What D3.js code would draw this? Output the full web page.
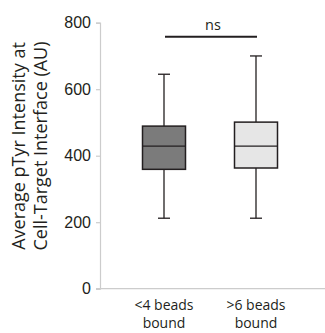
<!DOCTYPE html>
<html>
<head>
<meta charset="utf-8">
<script src="https://cdn.jsdelivr.net/npm/d3@7"></script>
<style>
  html, body { margin: 0; padding: 0; background: #fff; }
  svg { display: block; font-family: "Open Sans", "Noto Sans", sans-serif; }
</style>
</head>
<body>
<svg id="chart" width="325" height="333"></svg>
<script>
// Groups and five-number summaries (whisker low, Q1, median, Q3, whisker high)
const groups = ["<4 beads bound", ">6 beads bound"];
const groupLines = [["<4 beads", "bound"], [">6 beads", "bound"]];
const whiskerLow = [212, 212];
const q1 = [359, 363];
const median = [429, 429];
const q3 = [489, 501];
const whiskerHigh = [645, 700];
const fills = ["#7b7b7b", "#e6e6e6"];
const yTicks = [0, 200, 400, 600, 800];
const sigLabel = "ns";
const sigLevel = 758;
const yTitle = ["Average pTyr Intensity at", "Cell-Target Interface (AU)"];

const ink = "#231f20";
const svg = d3.select("#chart");
const margin = { left: 100, right: 0, top: 22.7, bottom: 44.3 };
const W = 325, H = 333;

const y = d3.scaleLinear().domain([0, 800]).range([H - margin.bottom, margin.top]);
const x = d3.scalePoint().domain(groups).range([164, 256]);

// Axes
const yAxis = svg.append("g").attr("transform", `translate(${margin.left},0)`)
  .call(d3.axisLeft(y).tickValues(yTicks).tickSize(4).tickPadding(5));
yAxis.select(".domain").attr("stroke", "#cccccc").attr("stroke-width", 1.2);
yAxis.selectAll(".tick line").attr("stroke", "#cccccc").attr("stroke-width", 1.2);
yAxis.selectAll(".tick text").attr("fill", ink).style("font-size", "16px");

const xAxis = svg.append("g").attr("transform", `translate(0,${y(0)})`)
  .call(d3.axisBottom(x).tickSize(0).tickFormat(""));
xAxis.select(".domain").attr("d", `M${margin.left - 4},0H${W}`)
  .attr("stroke", "#cccccc").attr("stroke-width", 1.2);

// Category labels, two lines each
groups.forEach((g, i) => {
  const t = svg.append("text")
    .attr("x", x(g))
    .attr("y", 310)
    .attr("text-anchor", "middle")
    .attr("fill", ink)
    .style("font-size", "14px");
  groupLines[i].forEach((ln, j) => {
    t.append("tspan").attr("x", x(g)).attr("dy", j === 0 ? 0 : 18).text(ln);
  });
});

// Box plots
const boxW = 43;
const capW = 12;
groups.forEach((g, i) => {
  const cx = x(g);
  const gb = svg.append("g");
  gb.append("line")
    .attr("x1", cx).attr("x2", cx)
    .attr("y1", y(whiskerHigh[i])).attr("y2", y(q3[i]))
    .attr("stroke", ink).attr("stroke-width", 1.3);
  gb.append("line")
    .attr("x1", cx).attr("x2", cx)
    .attr("y1", y(q1[i])).attr("y2", y(whiskerLow[i]))
    .attr("stroke", ink).attr("stroke-width", 1.3);
  [whiskerHigh[i], whiskerLow[i]].forEach(v => {
    gb.append("line")
      .attr("x1", cx - capW / 2).attr("x2", cx + capW / 2)
      .attr("y1", y(v)).attr("y2", y(v))
      .attr("stroke", ink).attr("stroke-width", 1.3);
  });
  gb.append("rect")
    .attr("x", cx - boxW / 2).attr("width", boxW)
    .attr("y", y(q3[i])).attr("height", y(q1[i]) - y(q3[i]))
    .attr("fill", fills[i]).attr("stroke", ink).attr("stroke-width", 1.5);
  gb.append("line")
    .attr("x1", cx - boxW / 2).attr("x2", cx + boxW / 2)
    .attr("y1", y(median[i])).attr("y2", y(median[i]))
    .attr("stroke", ink).attr("stroke-width", 1.3);
});

// Significance bar
const c0 = x(groups[0]);
const c1 = x(groups[1]);
svg.append("line")
  .attr("x1", c0 + 1).attr("x2", c1 + 1)
  .attr("y1", y(sigLevel)).attr("y2", y(sigLevel))
  .attr("stroke", ink).attr("stroke-width", 2);
svg.append("text")
  .attr("x", (c0 + c1) / 2 + 3).attr("y", 30)
  .attr("text-anchor", "middle").attr("fill", ink)
  .style("font-size", "14.5px").text(sigLabel);

// Y-axis title
const title = svg.append("text")
  .attr("transform", `translate(0,146) rotate(-90)`)
  .attr("text-anchor", "middle").attr("fill", ink)
  .style("font-size", "18px");
yTitle.forEach((ln, j) => {
  title.append("tspan").attr("x", 0).attr("y", 25 + j * 21.7).text(ln);
});
</script>
</body>
</html>
